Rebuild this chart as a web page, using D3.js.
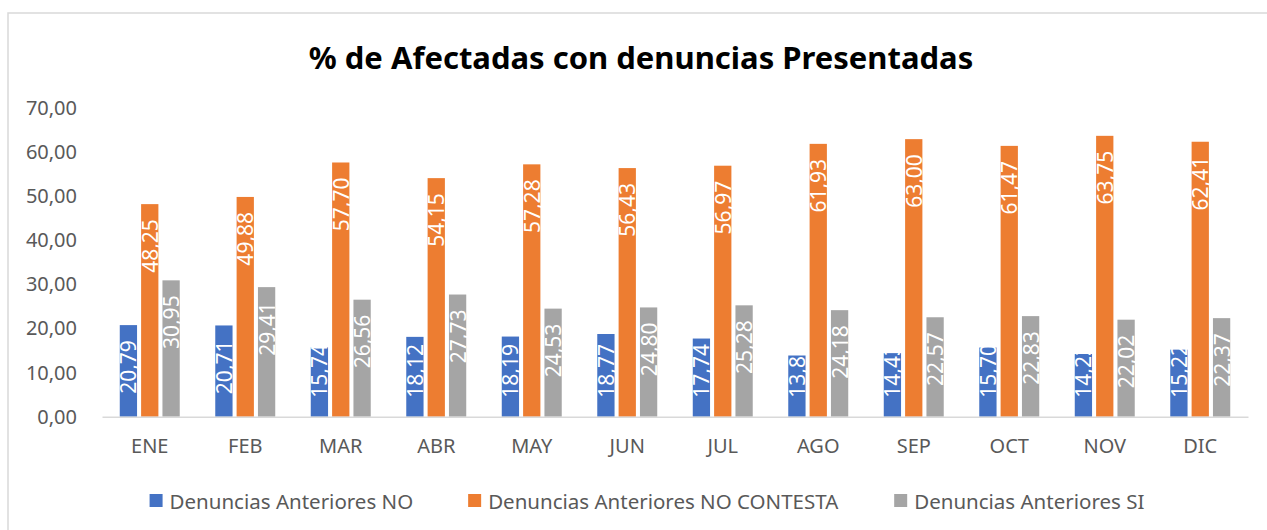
<!DOCTYPE html>
<html>
<head>
<meta charset="utf-8">
<script src="https://cdn.jsdelivr.net/npm/d3@7"></script>
<style>
  body { margin: 0; background: #fff; }
  svg { display: block; font-family: "Noto Sans", "Open Sans", sans-serif; }
</style>
</head>
<body>
<div id="chart"></div>
<script>
const months = ['ENE', 'FEB', 'MAR', 'ABR', 'MAY', 'JUN', 'JUL', 'AGO', 'SEP', 'OCT', 'NOV', 'DIC'];
const seriesNames = ['Denuncias Anteriores NO', 'Denuncias Anteriores NO CONTESTA', 'Denuncias Anteriores SI'];
const anterioresNo = [20.79, 20.71, 15.74, 18.12, 18.19, 18.77, 17.74, 13.89, 14.43, 15.70, 14.23, 15.22];
const anterioresNoContesta = [48.25, 49.88, 57.70, 54.15, 57.28, 56.43, 56.97, 61.93, 63.00, 61.47, 63.75, 62.41];
const anterioresSi = [30.95, 29.41, 26.56, 27.73, 24.53, 24.80, 25.28, 24.18, 22.57, 22.83, 22.02, 22.37];
const yTicks = [0, 10, 20, 30, 40, 50, 60, 70];
const colors = ['#4472C4', '#ED7D31', '#A5A5A5'];

const seriesValues = [anterioresNo, anterioresNoContesta, anterioresSi];

const width = 1267, height = 530;
const svg = d3.select('#chart').append('svg')
  .attr('width', width)
  .attr('height', height);

// chart frame (only top and left edges are visible in the crop)
svg.append('path')
  .attr('d', `M8,${height} V13 H${width}`)
  .attr('fill', 'none')
  .attr('stroke', '#D9D9D9')
  .attr('stroke-width', 1.5);

const comma = d3.formatLocale({ decimal: ',', thousands: '.', grouping: [3], currency: ['', ''] });
const fmt = comma.format('.2f');

const x0 = d3.scaleBand().domain(months).range([102, 1248]).paddingInner(0.372).paddingOuter(0.186);
const x1 = d3.scaleBand().domain(d3.range(3)).range([0, x0.bandwidth()]).paddingInner(0.19);
const y = d3.scaleLinear().domain([0, 70]).range([416.7, 108.3]);

// title
svg.append('text')
  .attr('x', 641)
  .attr('y', 57)
  .attr('text-anchor', 'middle')
  .attr('dominant-baseline', 'central')
  .attr('font-size', 31)
  .attr('font-weight', 'bold')
  .attr('fill', '#000')
  .text('% de Afectadas con denuncias Presentadas');

// y axis
const yAxis = svg.append('g')
  .attr('transform', 'translate(102,0)')
  .call(d3.axisLeft(y).tickValues(yTicks).tickFormat(fmt).tickSize(0).tickPadding(25));
yAxis.select('.domain').remove();
yAxis.selectAll('text')
  .attr('font-family', '"Noto Sans", sans-serif')
  .attr('font-size', 20)
  .attr('fill', '#595959');

// bars
const groups = svg.append('g').selectAll('g')
  .data(months)
  .join('g')
  .attr('transform', d => `translate(${x0(d)},0)`);

groups.selectAll('rect')
  .data((m, i) => seriesValues.map((vals, s) => ({ s, v: vals[i] })))
  .join('rect')
  .attr('x', d => x1(d.s))
  .attr('width', x1.bandwidth())
  .attr('y', d => y(d.v))
  .attr('height', d => y(0) - y(d.v))
  .attr('fill', d => colors[d.s]);

// data labels, rotated, inside end
groups.selectAll('text.lbl')
  .data((m, i) => seriesValues.map((vals, s) => ({ s, v: vals[i] })))
  .join('text')
  .attr('class', 'lbl')
  .attr('font-size', 21)
  .attr('fill', '#fff')
  .attr('text-anchor', 'start')
  .attr('dominant-baseline', 'central')
  .text(d => fmt(d.v))
  .each(function (d) {
    const len = this.getComputedTextLength();
    const endY = Math.min(y(d.v) + 15, y(0) - 19 - len);
    const cx = x1(d.s) + x1.bandwidth() / 2;
    d3.select(this).attr('transform', `translate(${cx},${endY + len}) rotate(-90)`);
  });

// x axis
const xAxis = svg.append('g')
  .attr('transform', `translate(0,${y(0)})`)
  .call(d3.axisBottom(x0).tickSize(0).tickPadding(22));
xAxis.select('.domain')
  .attr('stroke', '#D9D9D9')
  .attr('stroke-width', 1.5);
xAxis.selectAll('text')
  .attr('font-family', '"Noto Sans", sans-serif')
  .attr('font-size', 20)
  .attr('fill', '#595959');

// legend
const legend = svg.append('g');
const items = legend.selectAll('g')
  .data(seriesNames)
  .join('g');
items.append('rect')
  .attr('width', 13)
  .attr('height', 13)
  .attr('y', 494)
  .attr('fill', (d, i) => colors[i]);
items.append('text')
  .attr('x', 20)
  .attr('y', 500.5)
  .attr('dominant-baseline', 'central')
  .attr('font-size', 20.5)
  .attr('fill', '#595959')
  .text(d => d);

const widths = [];
items.each(function () { widths.push(this.getBBox().width); });
const gap = 55;
const total = d3.sum(widths) + gap * (widths.length - 1);
let cursor = 647 - total / 2;
items.attr('transform', (d, i) => {
  const t = `translate(${cursor},0)`;
  cursor += widths[i] + gap;
  return t;
});
</script>
</body>
</html>
